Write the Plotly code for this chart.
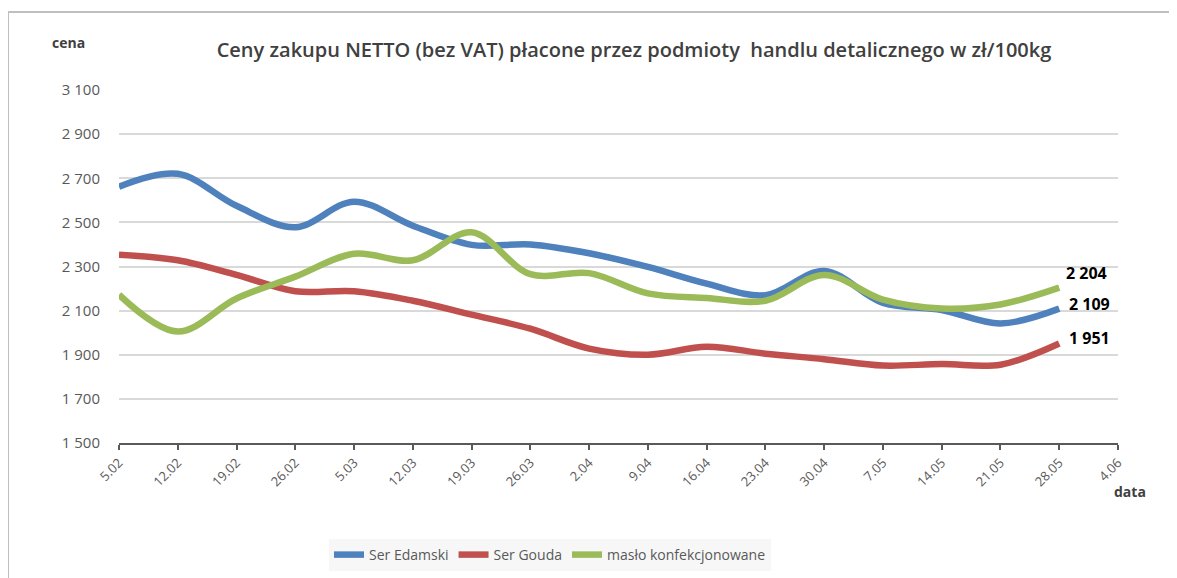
import plotly.graph_objects as go

# ── Data ──────────────────────────────────────────────────────────────────────
dates = ["5.02", "12.02", "19.02", "26.02", "5.03", "12.03", "19.03", "26.03",
         "2.04", "9.04", "16.04", "23.04", "30.04", "7.05", "14.05", "21.05",
         "28.05", "4.06"]

ser_edamski = [2662, 2720, 2575, 2478, 2594, 2485, 2398, 2400, 2360, 2298,
               2222, 2170, 2280, 2135, 2103, 2042, 2109]
ser_gouda = [2353, 2328, 2262, 2188, 2188, 2145, 2082, 2018, 1928, 1900,
             1936, 1905, 1880, 1851, 1858, 1855, 1951]
maslo = [2172, 2005, 2155, 2254, 2358, 2328, 2455, 2265, 2270, 2178,
         2157, 2145, 2262, 2150, 2110, 2128, 2204]

y_ticks = [1500, 1700, 1900, 2100, 2300, 2500, 2700, 2900, 3100]

SERIES = [
    ("Ser Edamski", ser_edamski, "#4f81bd"),
    ("Ser Gouda", ser_gouda, "#c0504d"),
    ("masło konfekcjonowane", maslo, "#9bbb59"),
]

# ── Geometry helpers ──────────────────────────────────────────────────────────
# the browser puts an 8px body margin round the figure, so every target pixel
# position from the screenshot is shifted back by OFF
W, H = 1177, 578
OFF = 8
PL, PR, PT, PB = 119, 1118, 90, 443          # plot box in screenshot pixels
L, T = PL - OFF, PT - OFF
R, B = W - (PR - OFF), H - (PB - OFF)
PW, PH = W - L - R, H - T - B


def px(x):
    return (x - PL) / PW


def py(y):
    return (PB - y) / PH


FONT = "Open Sans, Liberation Sans, sans-serif"
GREY = "#595959"

fig = go.Figure()
xs = list(range(len(dates)))

for name, vals, color in SERIES:
    fig.add_trace(go.Scatter(
        x=xs[:len(vals)], y=vals, name=name, mode="lines",
        line=dict(color=color, width=6.5, shape="spline", smoothing=1.0),
    ))

# end-point value labels
label_shift = {"Ser Edamski": (8, -8), "Ser Gouda": (8, -7), "masło konfekcjonowane": (5, 2)}
for name, vals, color in SERIES:
    dx, dy = label_shift[name]
    fig.add_annotation(
        x=len(vals) - 1, y=vals[-1], xref="x", yref="y",
        text=f"{vals[-1]:,}".replace(",", " "), showarrow=False,
        xanchor="left", yanchor="bottom", xshift=dx, yshift=dy,
        font=dict(family=FONT, size=16, color="#000000", weight="bold"),
    )

# axis captions
fig.add_annotation(x=px(68), y=py(42), xref="paper", yref="paper", text="cena",
                   showarrow=False, xanchor="center", yanchor="middle",
                   font=dict(family=FONT, size=14, color="#404040", weight="bold"))
fig.add_annotation(x=px(1130), y=py(492), xref="paper", yref="paper", text="data",
                   showarrow=False, xanchor="center", yanchor="middle",
                   font=dict(family=FONT, size=14, color="#404040", weight="bold"))

# page border of the original sheet
fig.add_shape(type="rect", xref="paper", yref="paper",
              x0=px(8), x1=px(1220), y0=py(12), y1=py(640),
              line=dict(color="#bfbfbf", width=2), fillcolor="rgba(0,0,0,0)", layer="below")

fig.update_layout(
    width=W, height=H,
    margin=dict(l=L, r=R, t=T, b=B),
    paper_bgcolor="white", plot_bgcolor="white",
    separators=", ",
    title=dict(
        text="Ceny zakupu NETTO (bez VAT) płacone przez podmioty  handlu detalicznego w zł/100kg",
        x=(634 - OFF) / W, y=1 - (50 - OFF) / H, xref="container", yref="container",
        xanchor="center", yanchor="middle",
        font=dict(family=FONT, size=20, color="#404040", weight=600),
    ),
    xaxis=dict(
        range=[0, len(dates) - 1], tickvals=xs, ticktext=dates, tickangle=-45,
        showgrid=False, zeroline=False,
        showline=True, linecolor=GREY, linewidth=2,
        ticks="outside", ticklen=5, tickwidth=2, tickcolor=GREY,
        tickfont=dict(family=FONT, size=13, color=GREY),
    ),
    yaxis=dict(
        range=[1500, 3100], tickvals=y_ticks, tickformat=",d",
        showgrid=True, gridcolor="#d9d9d9", gridwidth=1.5,
        zeroline=False, showline=False, ticks="",
        ticklabelstandoff=18,
        tickfont=dict(family=FONT, size=15, color=GREY),
    ),
    showlegend=True,
    legend=dict(
        orientation="h", x=px(550), y=py(555), xanchor="center", yanchor="middle",
        bgcolor="#f7f7f7", borderwidth=0,
        font=dict(family=FONT, size=14, color=GREY),
    ),
)

fig.write_html("out.html")
